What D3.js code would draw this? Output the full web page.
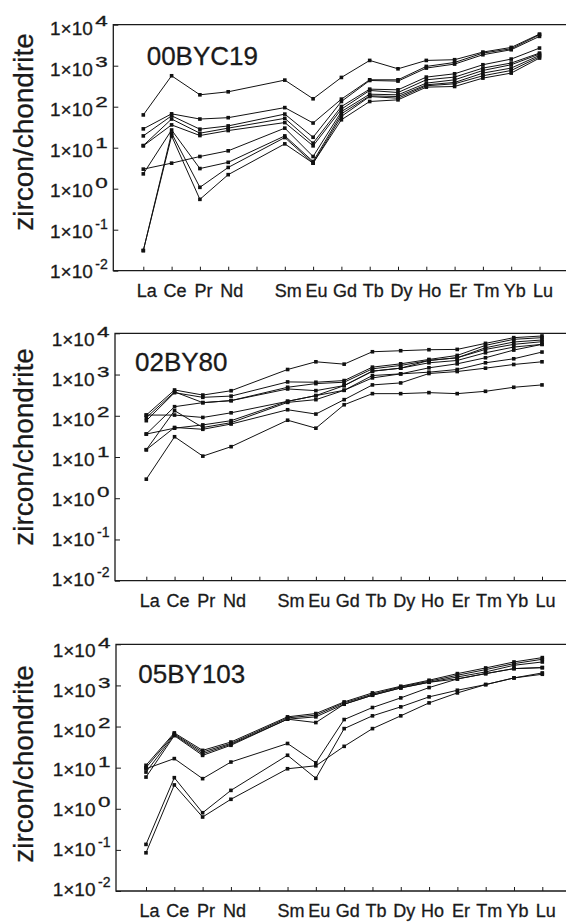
<!DOCTYPE html>
<html>
<head>
<meta charset="utf-8">
<title>zircon REE patterns</title>
<script src="https://cdn.jsdelivr.net/npm/d3@7"></script>
<style>
body { margin: 0; background: #fff; }
svg { display: block; }
svg text { stroke: #1a1a1a; stroke-width: 0.3px; }
</style>
</head>
<body>
<div id="chart"></div>
<script>
// element order on the x axis, Pm has a tick but no label and no data
const elements = ["La", "Ce", "Pr", "Nd", "Pm", "Sm", "Eu", "Gd", "Tb", "Dy", "Ho", "Er", "Tm", "Yb", "Lu"];
const measured = ["La", "Ce", "Pr", "Nd", "Sm", "Eu", "Gd", "Tb", "Dy", "Ho", "Er", "Tm", "Yb", "Lu"];
const tickExps = [4, 3, 2, 1, 0, -1, -2];
const sampleNames = ["00BYC19", "02BY80", "05BY103"];
const yTitle = "zircon/chondrite";

// zircon/chondrite, one row per analysis spot (La..Lu, no Pm)
const spots00BYC19 = [
    [63, 568, 195, 231, 445, 156, 517, 1345, 840, 1345, 1400, 2150, 2790, 5900],
    [28.8, 67, 50, 54, 95, 40, 153, 453, 453, 960, 1200, 2030, 2590, 5700],
    [19.4, 60, 28.3, 34, 66, 18, 134, 436, 421, 875, 1095, 1850, 2450, 5190],
    [11.3, 50, 22.6, 30, 52, 12.9, 101, 268, 258, 527, 635, 1055, 1450, 2690],
    [11.1, 36, 19.8, 26.2, 41, 11.1, 87, 249, 222, 453, 527, 875, 1160, 2030],
    [3.0, 4.2, 6.1, 8.4, 30, 6.1, 76, 202, 195, 376, 453, 765, 1055, 1920],
    [2.3, 27, 3.1, 4.4, 19.4, 4.6, 67, 184, 177, 342, 390, 660, 875, 1780],
    [0.031, 22.6, 1.08, 3.3, 17.7, 4.2, 58, 177, 161, 324, 362, 568, 765, 1650],
    [0.031, 19.4, 0.55, 2.2, 12.4, 4.2, 48, 134, 147, 300, 311, 498, 660, 1535]
];
const spots02BY80 = [
    [104, 422, 318, 405, 1325, 2037, 1786, 3570, 3780, 4000, 4070, 5700, 7840, 8610],
    [76, 363, 280, 300, 662, 650, 714, 1510, 1820, 2322, 2906, 5096, 7140, 7840],
    [90, 380, 208, 233, 491, 603, 650, 1375, 1660, 2195, 2552, 4470, 6150, 6880],
    [36, 166, 208, 233, 447, 407, 539, 1206, 1427, 2195, 2552, 4070, 5395, 6260],
    [104, 104, 91, 118, 224, 308, 539, 1206, 1427, 1926, 2195, 3375, 4640, 5395],
    [15, 133, 52, 68, 211, 246, 415, 946, 1038, 1455, 1820, 2552, 3920, 5395],
    [36, 50, 60, 76, 224, 308, 415, 829, 1038, 1140, 1325, 1926, 2410, 3510],
    [15, 52, 47, 63, 140, 110, 246, 560, 626, 1058, 1183, 1427, 1753, 2037],
    [2.9, 31, 10.5, 17.8, 78, 50, 185, 344, 344, 364, 344, 392, 491, 560]
];
const spots05BY103 = [
    [11.4, 70, 26.3, 42, 172, 207, 397, 658, 955, 1336, 1937, 2660, 3720, 4745],
    [10, 66, 24, 39, 162, 189, 376, 610, 920, 1262, 1766, 2425, 3390, 4322],
    [7.8, 63, 21.8, 37, 151, 172, 349, 577, 869, 1194, 1608, 2130, 3090, 3720],
    [5.9, 60, 19.9, 35, 151, 125, 349, 577, 869, 1194, 1438, 1937, 2565, 2710],
    [9.4, 16.6, 5.4, 13.7, 38.7, 13.1, 148, 290, 497, 886, 1438, 1937, 2565, 2710],
    [0.136, 5.7, 0.8, 2.8, 20, 5.5, 89, 182, 301, 526, 763, 1048, 1521, 2012],
    [0.085, 3.8, 0.63, 1.7, 9.4, 11.1, 33, 89, 182, 376, 658, 1048, 1521, 1867]
];
const panelData = [spots00BYC19, spots02BY80, spots05BY103];

// panel placement (labelShift: baseline offset of the top / bottom tick label)
const width = 566, height = 922;
const layout = [
    {left: 113.3, top: 24.7, bottom: 270.7, x0: 143.3, x1: 539.5, titleX: 146.7, titleY: 65, titleMid: 132, labelShift: [10.5, 7.5]},
    {left: 115, top: 333.3, bottom: 580.7, x0: 146.3, x1: 542, titleX: 135, titleY: 370.7, titleMid: 447, labelShift: [12.5, 5]},
    {left: 116, top: 644.3, bottom: 891, x0: 146, x1: 542.3, titleX: 138.3, titleY: 682.7, titleMid: 764, labelShift: [12.5, 5]}
];
const font = "'Liberation Sans', Arial, Helvetica, sans-serif";
const ink = "#1a1a1a";

const svg = d3.select("#chart").append("svg")
    .attr("width", width)
    .attr("height", height)
    .attr("font-family", font);

layout.forEach((p, k) => {
    const g = svg.append("g");

    const x = d3.scalePoint()
        .domain(elements)
        .range([p.x0, p.x1]);
    const y = d3.scaleLog()
        .domain([1e-2, 1e4])
        .range([p.bottom, p.top]);

    // x ticks point inward, labels placed by hand below
    g.append("g")
        .attr("transform", `translate(0,${p.bottom})`)
        .call(d3.axisBottom(x).tickSize(-4).tickSizeOuter(0).tickFormat(""))
        .call(a => a.select(".domain").remove())
        .call(a => a.selectAll("line").attr("stroke", ink).attr("stroke-width", 1));

    g.append("g")
        .attr("transform", `translate(${p.left},0)`)
        .call(d3.axisLeft(y).tickValues(tickExps.map(e => Math.pow(10, e))).tickSize(-5).tickSizeOuter(0).tickFormat(""))
        .call(a => a.select(".domain").remove())
        .call(a => a.selectAll("line").attr("stroke", ink).attr("stroke-width", 1));

    // frame: left, bottom and top lines run off the right edge
    g.append("path")
        .attr("fill", "none")
        .attr("stroke", ink)
        .attr("stroke-width", 1.3)
        .attr("d", `M${width},${p.top}H${p.left}V${p.bottom}H${width}`);

    g.append("g")
        .attr("font-size", 18)
        .attr("fill", ink)
        .attr("text-anchor", "middle")
        .selectAll("text")
        .data(elements.filter(e => e !== "Pm"))
        .join("text")
        .attr("x", d => x(d) + 3.5)
        .attr("y", p.bottom + 26)
        .text(d => d);

    // 1×10^n labels; they sit a little off the tick lines like the original
    const n = tickExps.length - 1;
    const lab = g.append("g")
        .attr("font-size", 19)
        .attr("fill", ink)
        .attr("text-anchor", "end")
        .selectAll("text")
        .data(tickExps)
        .join("text")
        .attr("x", p.left - 5.5)
        .attr("y", (e, i) => y(Math.pow(10, e)) + p.labelShift[0] + (p.labelShift[1] - p.labelShift[0]) * i / n);
    lab.append("tspan").text("1×10");
    lab.append("tspan")
        .attr("dy", -9)
        .attr("dx", 2.5)
        .attr("font-size", 14)
        .attr("textLength", 12.5)
        .attr("lengthAdjust", "spacingAndGlyphs")
        .text(e => e);

    g.append("text")
        .attr("transform", `translate(33,${p.titleMid}) rotate(-90)`)
        .attr("text-anchor", "middle")
        .attr("font-size", 28)
        .attr("fill", ink)
        .text(yTitle);

    g.append("text")
        .attr("x", p.titleX)
        .attr("y", p.titleY)
        .attr("font-size", 26)
        .attr("fill", ink)
        .text(sampleNames[k]);

    const line = d3.line()
        .x((d, i) => x(measured[i]))
        .y(d => y(d));

    const spots = g.append("g");
    spots.selectAll("path")
        .data(panelData[k])
        .join("path")
        .attr("fill", "none")
        .attr("stroke", "#111")
        .attr("stroke-width", 1)
        .attr("d", line);

    spots.selectAll("g")
        .data(panelData[k])
        .join("g")
        .selectAll("rect")
        .data(d => d)
        .join("rect")
        .attr("x", (d, i) => x(measured[i]) - 1.8)
        .attr("y", d => y(d) - 1.8)
        .attr("width", 3.6)
        .attr("height", 3.6)
        .attr("fill", "#111");
});
</script>
</body>
</html>
